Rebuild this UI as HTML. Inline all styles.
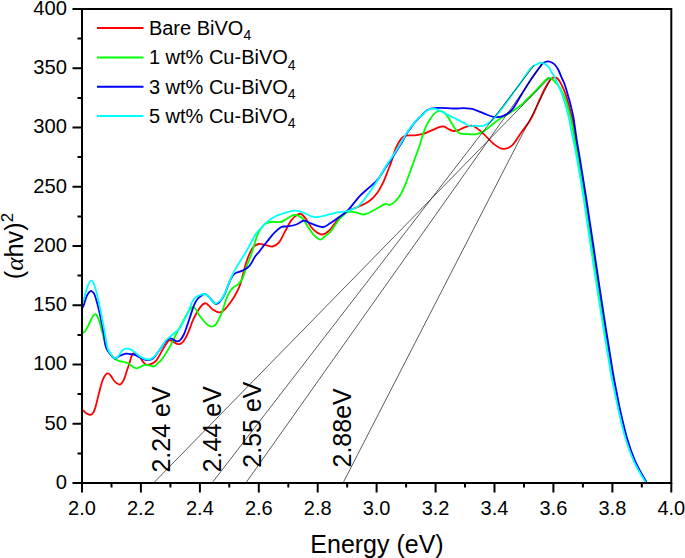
<!DOCTYPE html>
<html><head><meta charset="utf-8"><style>
html,body{margin:0;padding:0;background:#fff;width:685px;height:558px;overflow:hidden;}
svg{display:block;}
</style></head><body><svg width="685" height="558" viewBox="0 0 685 558"><defs><clipPath id="c"><rect x="82.0" y="9.0" width="589.3" height="474.0"/></clipPath></defs><g clip-path="url(#c)" fill="none" stroke-width="1.8" stroke-linejoin="round"><path d="M78.0,408.0 C78.8,408.4 81.7,409.7 83.1,410.6 C84.5,411.5 85.0,412.6 86.3,413.3 C87.5,414.0 89.3,415.2 90.6,414.9 C91.8,414.6 92.9,413.3 93.8,411.7 C94.7,410.1 95.1,408.4 96.0,405.2 C96.9,402.0 98.1,396.4 99.2,392.3 C100.3,388.2 101.4,383.5 102.5,380.5 C103.6,377.5 104.7,375.7 105.7,374.5 C106.7,373.3 107.5,373.2 108.4,373.5 C109.3,373.8 110.1,374.9 111.1,376.1 C112.1,377.4 113.0,379.6 114.3,381.0 C115.5,382.4 117.5,383.7 118.6,384.2 C119.7,384.7 119.9,385.0 120.8,384.2 C121.7,383.4 122.9,381.8 124.0,379.4 C125.1,377.0 126.3,372.4 127.2,369.7 C128.1,367.0 128.6,365.6 129.4,363.2 C130.2,360.8 131.1,356.8 131.9,355.1 C132.8,353.4 133.3,352.9 134.5,353.0 C135.7,353.1 137.4,354.5 138.9,356.0 C140.4,357.5 142.0,360.6 143.3,362.1 C144.6,363.6 145.5,364.5 146.8,364.8 C148.1,365.1 149.6,364.6 151.2,363.9 C152.8,363.2 154.5,362.7 156.4,360.4 C158.3,358.1 160.4,353.2 162.5,349.9 C164.6,346.6 167.2,342.0 168.8,340.6 C170.5,339.2 171.1,341.0 172.4,341.5 C173.8,342.0 175.6,343.4 176.9,343.8 C178.2,344.2 179.3,344.3 180.5,343.8 C181.7,343.3 182.8,342.6 184.1,340.6 C185.4,338.6 187.1,335.2 188.6,331.7 C190.1,328.2 191.3,323.5 193.3,319.4 C195.3,315.3 198.4,309.6 200.5,306.9 C202.6,304.2 204.0,303.0 205.9,303.3 C207.8,303.6 209.8,307.4 212.2,308.9 C214.6,310.4 217.5,313.0 220.2,312.4 C222.9,311.8 225.2,309.5 228.3,305.3 C231.5,301.1 236.1,294.5 239.1,287.3 C242.1,280.1 244.1,268.9 246.3,262.3 C248.5,255.7 250.4,251.0 252.5,247.9 C254.6,244.8 256.6,244.4 258.8,244.0 C261.1,243.6 263.7,244.8 266.0,245.2 C268.3,245.6 270.5,246.9 272.6,246.5 C274.7,246.1 276.7,245.2 278.8,242.7 C280.9,240.2 283.0,235.2 285.1,231.4 C287.2,227.6 289.3,222.9 291.4,220.1 C293.5,217.3 295.9,215.5 297.6,214.5 C299.3,213.5 299.9,213.3 301.4,214.1 C302.9,214.9 304.5,217.0 306.4,219.5 C308.3,222.0 310.2,226.4 312.7,228.9 C315.2,231.4 318.8,234.2 321.5,234.5 C324.2,234.8 326.8,232.7 329.0,230.8 C331.2,228.9 333.5,225.1 335.0,223.2 C336.5,221.3 336.0,221.4 338.1,219.4 C340.2,217.4 344.2,213.5 347.7,211.3 C351.2,209.2 355.5,208.1 359.0,206.5 C362.5,204.9 365.7,203.8 368.7,201.6 C371.7,199.4 374.4,196.7 376.8,193.5 C379.2,190.3 381.4,185.9 383.2,182.3 C385.0,178.7 386.0,175.5 387.4,172.0 C388.8,168.5 390.3,164.9 391.5,161.5 C392.7,158.1 393.5,154.3 394.5,151.5 C395.5,148.7 396.5,146.7 397.6,144.5 C398.7,142.3 400.2,140.0 401.3,138.6 C402.4,137.2 403.4,136.7 404.3,136.2 C405.2,135.7 405.7,135.7 406.6,135.5 C407.6,135.3 408.6,135.3 410.0,135.3 C411.4,135.3 412.9,135.5 415.1,135.3 C417.3,135.1 420.4,134.7 423.1,133.9 C425.8,133.1 428.4,131.7 431.1,130.6 C433.8,129.5 437.4,127.9 439.2,127.2 C441.0,126.5 441.1,126.6 442.0,126.5 C442.9,126.4 443.4,126.1 444.5,126.6 C445.6,127.1 447.4,128.7 448.9,129.4 C450.4,130.1 452.1,130.9 453.7,131.0 C455.3,131.1 456.9,130.7 458.5,130.2 C460.1,129.7 461.5,128.5 463.4,127.8 C465.3,127.1 468.2,126.0 470.0,125.8 C471.8,125.6 472.1,125.2 474.4,126.6 C476.7,128.0 480.7,131.3 483.8,134.1 C486.9,136.9 490.1,141.1 493.2,143.5 C496.3,145.9 499.5,148.5 502.7,148.8 C505.9,149.1 509.0,148.2 512.1,145.4 C515.2,142.6 518.4,136.6 521.5,132.2 C524.6,127.8 527.8,124.5 530.9,119.0 C534.0,113.5 537.7,104.0 540.0,99.0 C542.3,94.0 543.2,91.8 544.8,88.7 C546.4,85.6 548.5,82.2 549.7,80.4 C550.9,78.7 551.2,78.7 552.0,78.2 C552.8,77.7 553.6,77.2 554.5,77.3 C555.4,77.3 556.5,77.5 557.5,78.5 C558.5,79.5 559.8,81.4 560.8,83.3 C561.8,85.2 562.9,87.5 563.8,89.7 C564.7,91.9 565.5,94.1 566.3,96.6 C567.1,99.1 568.0,101.9 568.7,104.5 C569.4,107.1 570.0,109.6 570.7,112.4 C571.4,115.2 571.9,116.6 572.7,121.2 C573.5,125.8 574.6,133.5 575.6,140.0 C576.6,146.5 577.4,150.0 579.0,160.0 C580.6,170.0 583.1,185.0 585.4,200.0 C587.7,215.0 590.1,231.7 592.9,250.0 C595.7,268.3 598.9,290.0 602.0,310.0 C605.1,330.0 609.3,356.4 611.6,370.0 C613.9,383.6 614.4,384.3 615.8,391.5 C617.2,398.7 618.4,405.1 620.2,413.0 C622.0,420.9 624.4,430.8 626.7,438.7 C629.1,446.6 631.9,454.5 634.3,460.2 C636.7,465.9 638.8,469.2 640.9,473.0 C643.0,476.8 645.4,480.5 646.6,483.0 C647.8,485.5 647.8,487.2 648.0,488.0" stroke="#ff0000"/><path d="M79.0,338.0 C79.7,337.2 82.0,334.1 83.0,333.0 C84.0,331.9 84.4,332.3 85.2,331.1 C86.0,329.9 87.0,327.9 88.0,326.0 C89.0,324.1 90.2,321.7 91.0,320.0 C91.8,318.3 92.3,317.0 93.0,316.0 C93.7,315.0 94.4,314.3 95.1,314.2 C95.8,314.1 96.3,314.4 97.0,315.5 C97.7,316.6 98.5,319.1 99.2,321.0 C99.9,322.9 100.5,325.2 101.0,327.2 C101.5,329.2 101.9,330.6 102.5,333.0 C103.1,335.4 103.8,339.0 104.5,341.5 C105.2,344.0 106.0,346.2 106.9,348.0 C107.8,349.8 108.9,350.9 110.0,352.5 C111.1,354.1 112.0,356.4 113.5,357.8 C115.0,359.2 116.5,359.9 118.8,360.8 C121.1,361.7 124.6,361.8 127.5,363.0 C130.4,364.2 133.4,368.0 136.3,368.3 C139.2,368.6 142.1,365.1 145.0,364.8 C147.9,364.5 151.6,366.8 153.8,366.5 C156.0,366.2 156.6,364.3 158.0,363.0 C159.4,361.7 160.5,361.4 162.5,358.6 C164.5,355.8 168.0,349.9 170.0,346.4 C172.0,342.8 172.4,341.4 174.5,337.3 C176.6,333.2 179.6,327.2 182.6,322.1 C185.6,317.0 189.6,308.0 192.4,306.9 C195.2,305.8 197.6,313.3 199.4,315.5 C201.2,317.7 201.9,318.7 203.0,320.0 C204.1,321.3 205.0,322.5 206.0,323.4 C207.0,324.3 208.0,325.1 209.0,325.6 C210.0,326.1 211.0,326.6 211.9,326.6 C212.8,326.6 213.7,326.1 214.5,325.6 C215.3,325.1 215.8,324.5 216.5,323.4 C217.2,322.3 218.1,320.6 219.0,318.8 C219.9,317.0 220.9,315.2 221.8,312.8 C222.7,310.4 223.6,307.1 224.5,304.5 C225.4,301.9 226.1,299.4 227.0,297.1 C227.9,294.9 229.0,292.7 230.2,291.0 C231.4,289.3 232.9,287.9 234.2,286.8 C235.5,285.7 236.8,285.8 238.2,284.4 C239.5,283.0 241.2,280.6 242.3,278.7 C243.4,276.8 243.7,275.3 244.5,273.0 C245.3,270.7 246.1,268.1 247.2,265.0 C248.3,261.9 250.1,258.0 251.3,254.5 C252.5,251.0 253.6,246.8 254.5,244.0 C255.4,241.2 255.7,239.7 256.5,237.5 C257.3,235.3 258.4,232.8 259.4,231.0 C260.4,229.2 261.5,227.7 262.5,226.5 C263.5,225.3 264.1,224.3 265.5,223.6 C266.9,222.8 268.9,222.3 270.6,222.0 C272.3,221.7 274.1,221.9 275.8,221.9 C277.5,221.9 279.2,222.4 280.9,222.0 C282.6,221.6 284.0,220.4 286.0,219.3 C288.0,218.2 291.1,215.8 293.1,215.2 C295.1,214.6 296.5,215.0 298.2,215.7 C299.9,216.4 301.7,217.5 303.3,219.3 C304.9,221.1 305.9,223.8 307.7,226.4 C309.5,229.1 311.9,233.0 314.0,235.2 C316.1,237.4 318.4,239.4 320.2,239.6 C322.0,239.8 323.3,237.6 325.0,236.3 C326.7,235.0 328.7,233.8 330.3,232.0 C331.9,230.2 333.2,227.8 334.8,225.5 C336.4,223.2 337.9,220.7 340.0,218.5 C342.1,216.3 345.2,213.2 347.7,212.1 C350.2,211.0 352.3,211.7 355.0,212.1 C357.7,212.5 360.8,214.8 363.9,214.5 C367.0,214.2 370.8,211.8 373.5,210.5 C376.2,209.2 378.0,207.8 380.0,206.7 C382.0,205.6 383.8,204.3 385.4,204.0 C387.0,203.7 388.4,205.2 389.9,204.9 C391.4,204.6 392.7,203.7 394.3,202.2 C395.9,200.7 397.9,198.8 399.7,196.0 C401.5,193.2 403.3,189.4 405.1,185.2 C406.9,181.0 408.6,175.8 410.4,170.9 C412.2,166.0 414.2,160.3 415.8,156.0 C417.4,151.7 418.6,148.7 419.8,145.0 C421.0,141.3 421.9,137.4 423.1,133.9 C424.3,130.4 425.8,126.9 427.1,124.2 C428.4,121.5 429.8,119.6 431.1,117.7 C432.5,115.8 433.9,114.0 435.2,112.9 C436.5,111.8 437.9,111.0 439.2,110.9 C440.5,110.8 441.8,111.2 443.2,112.1 C444.6,113.0 445.9,114.3 447.3,116.1 C448.7,117.8 450.0,120.4 451.3,122.6 C452.6,124.8 454.0,127.2 455.3,129.0 C456.6,130.8 458.0,132.3 459.4,133.1 C460.8,133.9 461.6,133.7 463.4,133.9 C465.2,134.1 467.9,134.2 470.0,134.2 C472.1,134.2 474.0,134.6 476.3,134.1 C478.6,133.6 481.0,133.0 483.8,131.3 C486.6,129.6 490.1,126.1 493.2,123.7 C496.3,121.3 499.5,119.1 502.7,117.1 C505.9,115.1 509.0,113.5 512.1,111.5 C515.2,109.5 519.4,106.5 521.5,104.8 C523.6,103.1 523.4,102.8 525.0,101.3 C526.6,99.8 529.1,97.3 530.9,95.5 C532.7,93.7 534.2,92.2 535.8,90.6 C537.4,89.0 538.9,87.3 540.3,85.8 C541.7,84.3 543.0,82.6 544.0,81.5 C545.0,80.4 545.7,79.8 546.5,79.2 C547.3,78.6 548.1,78.1 548.9,78.0 C549.6,77.9 550.3,78.1 551.0,78.4 C551.7,78.7 552.2,79.2 553.0,79.9 C553.8,80.6 554.8,81.5 555.9,82.8 C557.0,84.1 558.8,85.9 559.9,87.7 C561.0,89.5 561.8,91.5 562.8,93.6 C563.8,95.7 564.9,98.0 565.8,100.5 C566.7,103.0 567.5,105.8 568.2,108.4 C568.9,111.0 569.5,113.5 570.2,116.3 C570.9,119.1 571.5,121.0 572.2,125.0 C573.0,128.9 573.7,134.2 574.7,140.0 C575.7,145.8 576.6,150.0 578.3,160.0 C580.0,170.0 582.5,185.0 584.8,200.0 C587.1,215.0 589.5,231.7 592.3,250.0 C595.1,268.3 598.3,290.0 601.4,310.0 C604.5,330.0 608.7,356.4 611.0,370.0 C613.3,383.6 613.8,384.3 615.3,391.5 C616.8,398.7 618.0,405.1 619.8,413.0 C621.6,420.9 623.9,430.8 626.3,438.7 C628.7,446.6 631.6,454.5 634.0,460.2 C636.4,465.9 638.6,469.2 640.7,473.0 C642.8,476.8 645.2,480.5 646.4,483.0 C647.6,485.5 647.7,487.2 648.0,488.0" stroke="#00ff00"/><path d="M80.0,312.0 C80.6,310.9 82.6,307.6 83.6,305.3 C84.6,303.0 85.2,300.1 86.0,298.0 C86.8,295.9 87.7,294.2 88.5,293.0 C89.3,291.8 90.3,290.9 91.1,290.8 C91.8,290.7 92.4,291.6 93.0,292.3 C93.6,293.0 94.0,293.1 94.7,295.0 C95.4,296.9 96.6,301.0 97.4,304.0 C98.2,307.0 98.9,309.9 99.6,312.9 C100.3,315.9 100.8,318.9 101.4,321.9 C102.0,324.9 102.5,326.9 103.2,330.8 C103.9,334.7 104.7,341.7 105.4,345.0 C106.1,348.3 106.5,348.8 107.5,350.5 C108.5,352.2 110.3,354.1 111.5,355.5 C112.7,356.9 113.5,358.5 114.8,358.6 C116.1,358.7 117.8,356.7 119.6,355.9 C121.4,355.1 124.2,353.9 125.9,353.6 C127.6,353.3 128.6,353.9 130.0,354.1 C131.4,354.3 132.9,354.2 134.5,354.7 C136.1,355.2 137.8,356.4 139.8,357.3 C141.9,358.2 144.6,359.8 146.8,360.0 C149.0,360.2 150.9,360.1 152.9,358.6 C154.9,357.1 156.8,353.7 159.0,350.8 C161.2,347.9 164.4,343.1 166.0,341.1 C167.6,339.1 167.9,339.2 168.8,338.8 C169.7,338.4 170.3,338.2 171.5,338.6 C172.7,339.0 174.7,340.8 176.0,341.1 C177.3,341.4 178.3,341.6 179.6,340.6 C180.9,339.6 182.3,337.5 183.6,335.0 C184.9,332.5 186.0,328.8 187.2,325.4 C188.4,322.0 189.6,318.1 190.8,314.6 C192.0,311.2 193.1,307.4 194.3,304.7 C195.5,302.0 196.6,300.1 197.9,298.5 C199.2,296.9 201.2,295.6 202.4,294.9 C203.6,294.1 204.1,293.7 205.1,294.0 C206.1,294.3 206.9,295.1 208.7,296.7 C210.4,298.3 213.6,303.1 215.6,303.8 C217.6,304.5 219.0,302.6 220.5,301.0 C222.0,299.4 223.3,296.9 224.5,294.5 C225.7,292.1 226.6,289.2 227.7,286.5 C228.8,283.8 229.9,280.6 231.0,278.5 C232.1,276.4 233.1,275.0 234.2,274.0 C235.3,273.0 236.1,272.9 237.4,272.3 C238.8,271.7 240.3,271.7 242.3,270.6 C244.3,269.5 247.4,268.2 249.5,265.8 C251.6,263.4 253.4,258.9 255.1,256.5 C256.8,254.1 258.0,253.3 259.4,251.5 C260.8,249.7 262.0,248.0 263.7,245.8 C265.4,243.7 267.5,240.9 269.4,238.6 C271.3,236.3 273.0,234.1 275.0,232.2 C277.0,230.3 279.2,228.0 281.3,227.0 C283.4,226.0 285.1,226.8 287.6,226.4 C290.1,226.0 293.7,225.4 296.4,224.5 C299.1,223.6 301.6,220.9 303.9,220.7 C306.2,220.5 307.1,222.1 310.2,223.2 C313.3,224.2 319.4,227.0 322.7,227.0 C326.0,227.0 327.6,224.8 330.2,223.2 C332.8,221.6 335.2,219.8 338.1,217.7 C341.0,215.6 344.2,214.0 347.7,210.5 C351.2,207.0 355.5,200.6 359.0,196.8 C362.5,193.0 365.7,190.6 368.7,187.9 C371.7,185.2 374.2,183.6 376.8,180.6 C379.4,177.6 382.2,172.7 384.0,170.0 C385.8,167.3 386.4,166.3 387.7,164.5 C388.9,162.7 390.2,160.8 391.5,158.9 C392.8,157.0 394.0,154.9 395.3,152.9 C396.6,150.9 397.9,148.8 399.1,146.8 C400.4,144.8 401.6,142.9 402.8,140.7 C404.1,138.5 405.4,135.8 406.6,133.8 C407.8,131.9 408.6,130.9 410.0,129.0 C411.4,127.1 413.5,124.0 415.0,122.2 C416.5,120.4 417.6,119.3 419.0,117.9 C420.4,116.5 421.8,115.3 423.1,114.0 C424.5,112.7 425.8,111.2 427.1,110.3 C428.4,109.4 429.8,108.9 431.1,108.5 C432.5,108.1 433.9,108.1 435.2,108.0 C436.5,107.9 437.2,107.9 439.2,107.9 C441.2,107.9 444.6,108.0 447.3,108.1 C450.0,108.2 452.6,108.5 455.3,108.5 C458.0,108.5 460.9,108.1 463.4,108.1 C465.8,108.1 468.2,108.3 470.0,108.6 C471.8,108.8 472.1,108.8 474.4,109.6 C476.7,110.4 480.7,112.2 483.8,113.4 C486.9,114.6 490.1,116.3 493.2,116.8 C496.3,117.3 499.5,117.4 502.7,116.2 C505.9,115.0 509.0,113.2 512.1,109.6 C515.2,106.0 518.4,99.5 521.5,94.5 C524.6,89.5 527.8,84.2 530.9,79.5 C534.0,74.8 538.2,69.1 540.3,66.3 C542.3,63.5 541.9,63.7 543.2,62.9 C544.5,62.1 546.6,61.3 548.1,61.3 C549.6,61.3 551.1,62.0 552.3,62.7 C553.5,63.4 554.5,64.3 555.5,65.5 C556.5,66.7 557.4,67.9 558.4,70.0 C559.4,72.1 560.7,75.4 561.8,77.9 C562.9,80.4 563.9,82.3 564.8,84.8 C565.7,87.3 566.5,90.2 567.2,92.7 C567.9,95.2 568.5,97.1 569.2,99.6 C569.9,102.0 570.5,104.6 571.2,107.4 C571.9,110.2 572.6,113.4 573.2,116.3 C573.8,119.2 574.0,121.0 574.6,125.0 C575.2,128.9 575.8,134.2 576.7,140.0 C577.6,145.8 578.5,150.0 580.1,160.0 C581.7,170.0 584.2,185.0 586.5,200.0 C588.8,215.0 591.2,231.7 594.0,250.0 C596.8,268.3 599.9,290.0 603.0,310.0 C606.1,330.0 610.2,356.4 612.5,370.0 C614.8,383.6 615.1,384.3 616.5,391.5 C617.9,398.7 619.0,405.1 620.8,413.0 C622.6,420.9 624.9,430.8 627.2,438.7 C629.5,446.6 632.4,454.5 634.7,460.2 C637.0,465.9 639.2,469.2 641.2,473.0 C643.2,476.8 645.7,480.5 646.8,483.0 C647.9,485.5 647.8,487.2 648.0,488.0" stroke="#0000ff"/><path d="M80.0,310.0 C80.6,308.3 82.6,303.2 83.6,300.0 C84.6,296.8 85.2,293.7 86.0,291.0 C86.8,288.3 87.6,285.7 88.5,284.0 C89.4,282.3 90.5,280.4 91.5,280.6 C92.5,280.9 93.6,283.2 94.5,285.5 C95.4,287.8 96.2,291.4 97.0,294.5 C97.8,297.6 98.5,300.9 99.2,304.0 C99.9,307.1 100.4,309.9 101.0,312.9 C101.6,315.9 102.1,318.9 102.7,321.9 C103.3,324.9 103.8,326.9 104.5,330.8 C105.2,334.7 106.1,341.7 106.8,345.0 C107.5,348.3 107.7,348.8 108.5,350.5 C109.3,352.2 110.5,353.7 111.5,355.0 C112.5,356.3 113.2,357.8 114.2,358.1 C115.2,358.4 116.5,358.1 117.8,356.8 C119.1,355.5 120.9,351.9 122.3,350.5 C123.7,349.1 124.6,348.9 125.9,348.7 C127.2,348.5 128.7,348.8 130.0,349.2 C131.3,349.6 131.8,349.9 133.6,351.2 C135.4,352.5 138.2,355.5 140.6,356.9 C142.9,358.3 145.6,359.4 147.7,359.5 C149.8,359.6 151.0,359.2 152.9,357.8 C154.8,356.4 156.8,353.7 159.0,350.8 C161.2,347.9 164.2,342.6 166.0,340.3 C167.8,338.0 168.2,338.4 170.0,336.8 C171.8,335.2 175.2,332.3 176.9,330.8 C178.6,329.3 178.9,329.6 180.0,328.0 C181.1,326.4 182.4,323.5 183.5,321.5 C184.6,319.5 185.6,317.9 186.5,316.0 C187.4,314.1 188.1,312.3 189.0,310.1 C189.9,307.9 190.7,305.0 191.7,302.9 C192.7,300.8 193.9,298.9 195.2,297.6 C196.5,296.3 198.2,295.9 199.7,295.3 C201.2,294.7 202.7,293.8 204.2,294.0 C205.7,294.2 207.2,295.4 208.7,296.7 C210.2,298.0 212.0,300.9 213.2,302.0 C214.3,303.1 214.4,303.6 215.6,303.3 C216.8,303.1 219.0,302.1 220.5,300.5 C222.0,298.9 223.3,296.4 224.5,294.0 C225.7,291.6 226.6,288.7 227.7,286.0 C228.8,283.3 229.9,280.3 231.0,277.9 C232.1,275.5 233.1,273.6 234.2,271.5 C235.3,269.4 235.5,268.7 237.4,265.5 C239.3,262.3 243.2,256.6 245.8,252.2 C248.4,247.8 251.3,242.2 252.9,239.3 C254.5,236.4 254.1,236.4 255.3,234.6 C256.6,232.8 258.5,230.5 260.4,228.5 C262.3,226.5 264.4,224.3 266.6,222.4 C268.8,220.5 271.3,218.7 273.7,217.3 C276.1,215.9 277.5,215.3 280.9,214.2 C284.3,213.1 290.3,210.9 293.9,210.6 C297.5,210.3 299.7,211.4 302.6,212.3 C305.5,213.2 308.9,215.5 311.4,216.3 C313.9,217.1 315.2,217.2 317.7,217.0 C320.2,216.8 323.6,215.8 326.5,215.1 C329.4,214.4 332.8,213.5 335.0,213.0 C337.2,212.5 337.3,212.5 339.7,212.1 C342.1,211.7 346.2,211.6 349.4,210.5 C352.6,209.4 355.8,208.4 359.0,205.6 C362.2,202.8 365.5,197.9 368.7,193.5 C371.9,189.1 375.8,183.1 378.4,179.0 C380.9,174.9 382.4,171.8 384.0,169.2 C385.6,166.6 386.4,165.4 387.7,163.5 C388.9,161.6 390.2,159.8 391.5,157.9 C392.8,156.0 394.0,153.9 395.3,151.9 C396.6,149.9 397.9,147.8 399.1,145.8 C400.4,143.8 401.6,141.9 402.8,139.8 C404.1,137.7 405.4,134.9 406.6,133.0 C407.8,131.1 408.6,130.2 410.0,128.3 C411.4,126.4 413.5,123.6 415.0,121.8 C416.5,120.0 417.6,119.0 419.0,117.7 C420.4,116.4 421.8,115.3 423.1,114.1 C424.5,112.9 425.8,111.4 427.1,110.5 C428.4,109.6 429.8,109.2 431.1,108.9 C432.5,108.6 433.9,108.3 435.2,108.6 C436.5,108.9 437.9,109.8 439.2,110.5 C440.5,111.2 441.8,111.8 443.2,112.5 C444.6,113.2 445.9,113.8 447.3,114.5 C448.7,115.2 450.0,115.8 451.3,116.5 C452.6,117.2 454.0,117.8 455.3,118.5 C456.6,119.2 458.0,119.9 459.4,120.6 C460.8,121.3 461.6,121.6 463.4,122.6 C465.2,123.5 468.2,125.8 470.0,126.3 C471.8,126.8 472.1,125.7 474.4,125.6 C476.7,125.5 480.7,126.7 483.8,125.6 C486.9,124.5 490.1,122.0 493.2,119.0 C496.3,116.0 499.5,111.8 502.7,107.7 C505.9,103.6 509.0,98.9 512.1,94.5 C515.2,90.1 518.4,85.8 521.5,81.4 C524.6,77.0 528.4,71.0 530.9,68.2 C533.4,65.4 535.1,65.3 536.6,64.4 C538.1,63.5 538.9,63.1 540.0,62.9 C541.1,62.7 541.9,62.6 543.2,63.2 C544.6,63.8 546.8,65.0 548.1,66.3 C549.4,67.6 549.9,69.1 551.0,71.0 C552.1,72.9 553.6,75.3 554.9,77.9 C556.2,80.5 557.8,84.1 558.9,86.7 C560.0,89.3 560.8,91.0 561.8,93.6 C562.8,96.2 563.9,99.5 564.8,102.5 C565.7,105.5 566.5,108.6 567.2,111.4 C567.9,114.2 568.7,117.0 569.2,119.3 C569.7,121.6 569.5,121.5 570.2,125.0 C570.9,128.4 572.1,134.2 573.3,140.0 C574.5,145.8 575.4,150.0 577.2,160.0 C579.0,170.0 581.6,185.0 583.9,200.0 C586.2,215.0 588.4,231.7 591.2,250.0 C594.0,268.3 597.3,290.0 600.5,310.0 C603.7,330.0 607.9,356.4 610.3,370.0 C612.6,383.6 613.1,384.3 614.6,391.5 C616.1,398.7 617.3,405.1 619.1,413.0 C620.9,420.9 623.2,430.8 625.6,438.7 C628.0,446.6 630.9,454.5 633.3,460.2 C635.7,465.9 638.0,469.2 640.1,473.0 C642.2,476.8 644.7,480.5 646.0,483.0 C647.3,485.5 647.7,487.2 648.0,488.0" stroke="#00ffff"/></g><g stroke="#000" stroke-width="0.75" opacity="0.85"><line x1="153.5" y1="483.0" x2="548.9" y2="78.4"/><line x1="212.0" y1="483.0" x2="534.4" y2="65.1"/><line x1="245.8" y1="483.0" x2="542.8" y2="63.5"/><line x1="343.0" y1="483.0" x2="550.5" y2="79.5"/></g><rect x="82.0" y="9.0" width="589.3" height="474.0" fill="none" stroke="#000" stroke-width="2"/><path d="M82.0,483.0v9.5M111.5,483.0v4.5M140.9,483.0v9.5M170.4,483.0v4.5M199.9,483.0v9.5M229.3,483.0v4.5M258.8,483.0v9.5M288.3,483.0v4.5M317.7,483.0v9.5M347.2,483.0v4.5M376.6,483.0v9.5M406.1,483.0v4.5M435.6,483.0v9.5M465.0,483.0v4.5M494.5,483.0v9.5M524.0,483.0v4.5M553.4,483.0v9.5M582.9,483.0v4.5M612.4,483.0v9.5M641.8,483.0v4.5M671.3,483.0v9.5M82.0,483.0h-9.5M82.0,453.4h-4.5M82.0,423.8h-9.5M82.0,394.1h-4.5M82.0,364.5h-9.5M82.0,334.9h-4.5M82.0,305.2h-9.5M82.0,275.6h-4.5M82.0,246.0h-9.5M82.0,216.4h-4.5M82.0,186.8h-9.5M82.0,157.1h-4.5M82.0,127.5h-9.5M82.0,97.9h-4.5M82.0,68.2h-9.5M82.0,38.6h-4.5M82.0,9.0h-9.5" stroke="#000" stroke-width="2" fill="none"/><g font-family='"Liberation Sans", sans-serif' font-size="20" fill="#000"><text x="82.0" y="514.5" text-anchor="middle">2.0</text><text x="140.9" y="514.5" text-anchor="middle">2.2</text><text x="199.9" y="514.5" text-anchor="middle">2.4</text><text x="258.8" y="514.5" text-anchor="middle">2.6</text><text x="317.7" y="514.5" text-anchor="middle">2.8</text><text x="376.6" y="514.5" text-anchor="middle">3.0</text><text x="435.6" y="514.5" text-anchor="middle">3.2</text><text x="494.5" y="514.5" text-anchor="middle">3.4</text><text x="553.4" y="514.5" text-anchor="middle">3.6</text><text x="612.4" y="514.5" text-anchor="middle">3.8</text><text x="671.3" y="514.5" text-anchor="middle">4.0</text><text x="66.9" y="488.8" text-anchor="end" font-size="20.2">0</text><text x="66.9" y="429.6" text-anchor="end" font-size="20.2">50</text><text x="66.9" y="370.3" text-anchor="end" font-size="20.2">100</text><text x="66.9" y="311.1" text-anchor="end" font-size="20.2">150</text><text x="66.9" y="251.8" text-anchor="end" font-size="20.2">200</text><text x="66.9" y="192.6" text-anchor="end" font-size="20.2">250</text><text x="66.9" y="133.3" text-anchor="end" font-size="20.2">300</text><text x="66.9" y="74.0" text-anchor="end" font-size="20.2">350</text><text x="66.9" y="14.8" text-anchor="end" font-size="20.2">400</text></g><text x="377" y="552.5" text-anchor="middle" font-family='"Liberation Sans", sans-serif' font-size="25">Energy (eV)</text><text transform="translate(23,246) rotate(-90)" text-anchor="middle" font-family='"Liberation Sans", sans-serif' font-size="25.3">(<tspan font-family='"Liberation Serif", serif' font-style="italic">&#945;</tspan>hv)<tspan dy="-10.5" font-size="17">2</tspan></text><line x1="97" y1="28.1" x2="143.5" y2="28.1" stroke="#ff0000" stroke-width="2"/><text x="148.9" y="34.9" font-family='"Liberation Sans", sans-serif' font-size="20">Bare BiVO<tspan dy="5.5" font-size="14">4</tspan></text><line x1="97" y1="57.4" x2="143.5" y2="57.4" stroke="#00ff00" stroke-width="2"/><text x="148.9" y="64.2" font-family='"Liberation Sans", sans-serif' font-size="20">1 wt% Cu-BiVO<tspan dy="5.5" font-size="14">4</tspan></text><line x1="97" y1="86.7" x2="143.5" y2="86.7" stroke="#0000ff" stroke-width="2"/><text x="148.9" y="93.5" font-family='"Liberation Sans", sans-serif' font-size="20">3 wt% Cu-BiVO<tspan dy="5.5" font-size="14">4</tspan></text><line x1="97" y1="116.0" x2="143.5" y2="116.0" stroke="#00ffff" stroke-width="2"/><text x="148.9" y="122.8" font-family='"Liberation Sans", sans-serif' font-size="20">5 wt% Cu-BiVO<tspan dy="5.5" font-size="14">4</tspan></text><text transform="translate(169.6,472.6) rotate(-90)" font-family='"Liberation Sans", sans-serif' font-size="25">2.24 eV</text><text transform="translate(221.3,472.3) rotate(-90)" font-family='"Liberation Sans", sans-serif' font-size="25">2.44 eV</text><text transform="translate(261.2,467.7) rotate(-90)" font-family='"Liberation Sans", sans-serif' font-size="25">2.55 eV</text><text transform="translate(351.4,467.5) rotate(-90)" font-family='"Liberation Sans", sans-serif' font-size="25">2.88eV</text></svg></body></html>
